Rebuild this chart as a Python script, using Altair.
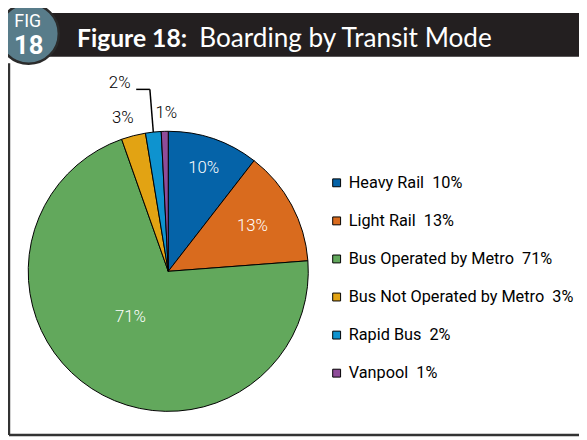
import math
import altair as alt
import pandas as pd

# ---------------- data ----------------
modes = ["Heavy Rail", "Light Rail", "Bus Operated by Metro",
         "Bus Not Operated by Metro", "Rapid Bus", "Vanpool"]
shares = [10.5, 13.3, 70.8, 2.8, 1.8, 0.8]
pct_labels = ["10%", "13%", "71%", "3%", "2%", "1%"]
colors = ["#0563A8", "#D96B1E", "#62A85C", "#E2A313", "#0E93CF", "#8E4C99"]

title_bold = "Figure 18:"
title_rest = "Boarding by Transit Mode"
badge_top = "FIG"
badge_num = "18"

NB = "\u00a0"
legend_labels = [f"{m}{NB}{NB}{p}" for m, p in zip(modes, pct_labels)]

df = pd.DataFrame({
    "mode": modes,
    "share": shares,
    "pct": pct_labels,
    "legend": legend_labels,
    "order": list(range(len(modes))),
})
one = pd.DataFrame({"k": [0]})

# ---------------- layout ----------------
W, H = 579, 431
CX, CY, R = 162.5, 264, 142
LABEL_FONT = "Roboto"

base = alt.Chart(df).encode(
    theta=alt.Theta("share:Q", stack=True),
    order=alt.Order("order:Q"),
    x=alt.value(CX),
    y=alt.value(CY),
)

pie = base.mark_arc(outerRadius=R, stroke="black", strokeWidth=1).encode(
    color=alt.Color(
        "legend:N",
        sort=legend_labels,
        scale=alt.Scale(domain=legend_labels, range=colors),
        legend=alt.Legend(
            title=None, orient="none", legendX=325, legendY=166,
            symbolType="square", symbolSize=64,
            symbolStrokeColor="black", symbolStrokeWidth=1,
            labelFont=LABEL_FONT, labelFontSize=16.5, labelColor="black",
            rowPadding=21.6, padding=0, labelOffset=4, symbolOffset=0,
            labelLimit=400,
        ),
    )
)


def pct_text(mode, radius, color, dx=0, dy=0):
    return base.mark_text(
        radius=radius, dx=dx, dy=dy, font=LABEL_FONT, fontSize=17,
        fontWeight=300, color=color, align="center", baseline="middle",
    ).encode(text=alt.condition(alt.datum.mode == mode, "pct:N", alt.value("")))


labels = [
    pct_text("Heavy Rail", 111, "white"),
    pct_text("Light Rail", 97, "white"),
    pct_text("Bus Operated by Metro", 61, "white", dx=-5, dy=-5),
    pct_text("Bus Not Operated by Metro", 161, "black", dx=-6, dy=1),
    pct_text("Rapid Bus", 190, "black", dx=-29, dy=-2),
    pct_text("Vanpool", 160, "black", dx=2, dy=-1),
]

# leader line for the Rapid Bus label, ending on the slice's arc
total = sum(shares)
cum_before = sum(shares[:4])
mid_frac = (cum_before + shares[4] / 2) / total
ang = 2 * math.pi * mid_frac
ex, ey = CX + R * math.sin(ang), CY - R * math.cos(ang)
lead_y = 79.5
lead_x0 = 130
lead_x1 = ex - 3.5
leader_h = alt.Chart(one).mark_rule(color="black", strokeWidth=1.5).encode(
    x=alt.value(lead_x0), x2=alt.value(lead_x1), y=alt.value(lead_y), y2=alt.value(lead_y))
leader_v = alt.Chart(one).mark_rule(color="black", strokeWidth=1.5).encode(
    x=alt.value(lead_x1), x2=alt.value(ex), y=alt.value(lead_y), y2=alt.value(ey))

# frame lines
frame_l = alt.Chart(one).mark_rule(color="#333333", strokeWidth=2.5).encode(
    x=alt.value(1), x2=alt.value(1), y=alt.value(53), y2=alt.value(430))
frame_b = alt.Chart(one).mark_rule(color="#333333", strokeWidth=2.5).encode(
    x=alt.value(1), x2=alt.value(W), y=alt.value(430), y2=alt.value(430))

# title banner
banner = alt.Chart(one).mark_rect(color="#231F20").encode(
    x=alt.value(40), x2=alt.value(W), y=alt.value(2), y2=alt.value(46.5))
t1 = alt.Chart(one).mark_text(
    text=title_bold, font="Lato", fontWeight="bold", fontSize=25, color="white",
    align="left", baseline="alphabetic").encode(x=alt.value(70), y=alt.value(36.3))
t2 = alt.Chart(one).mark_text(
    text=title_rest, font="Lato", fontSize=26.5, color="white",
    align="left", baseline="alphabetic").encode(x=alt.value(194), y=alt.value(36.3))

# badge
badge = alt.Chart(one).mark_point(
    shape="circle", filled=True, fill="#587C8A", stroke="#2B2B2B",
    strokeWidth=2.5, size=3721, opacity=1).encode(x=alt.value(21), y=alt.value(23))
b1 = alt.Chart(one).mark_text(
    text=badge_top, font=LABEL_FONT, fontSize=18, color="white",
    align="center", baseline="middle").encode(x=alt.value(20), y=alt.value(11))
b2 = alt.Chart(one).mark_text(
    text=badge_num, font=LABEL_FONT, fontWeight="bold", fontSize=26, color="white",
    align="center", baseline="middle").encode(x=alt.value(21), y=alt.value(36))

chart = alt.layer(
    frame_l, frame_b, banner, t1, t2, badge, b1, b2,
    pie, *labels, leader_h, leader_v,
).properties(
    width=W, height=H, padding=0, autosize=alt.AutoSizeParams(type="none"),
).configure_view(stroke=None)

chart.save("out.html", embed_options={"renderer": "svg", "actions": False})
